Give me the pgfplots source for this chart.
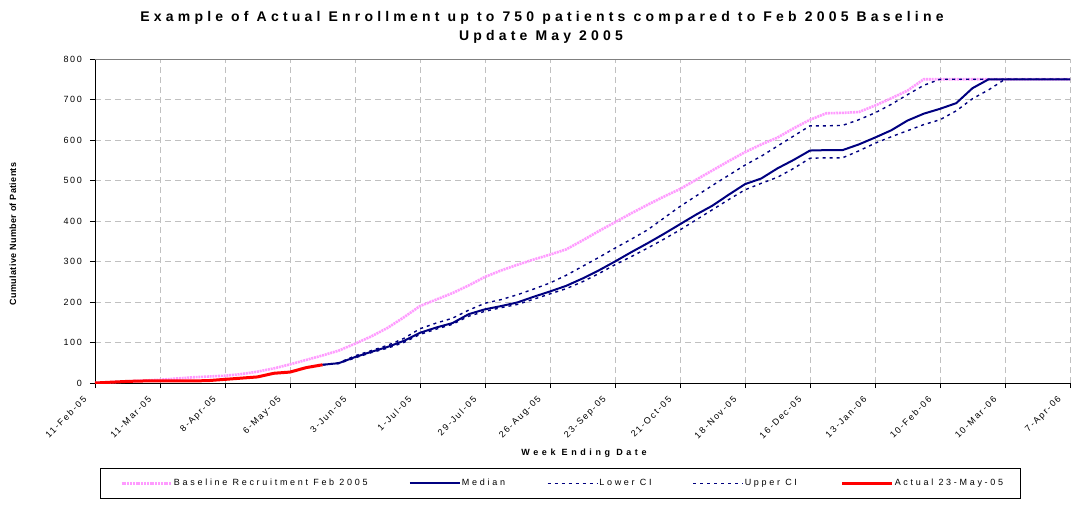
\documentclass[border=0pt]{standalone}
\usepackage{pgfplots}
\pgfplotsset{compat=1.18}
\usepackage{pgfplotstable}
\usepackage{fontspec}
\setmainfont{Liberation Sans}
\newfontfamily\titlefont[LetterSpace=30]{Liberation Sans}
\newfontfamily\legfont[LetterSpace=30]{Liberation Sans}
\newfontfamily\tickfont[LetterSpace=18]{Liberation Sans}
\newfontfamily\xlabfont[LetterSpace=40]{Liberation Sans}
\newfontfamily\ylabfont[LetterSpace=4]{Liberation Sans}
\definecolor{pinkline}{RGB}{255,155,255}
\definecolor{navy}{RGB}{0,0,128}
\definecolor{gridgray}{RGB}{192,192,192}

\pgfplotstableread{
w v
0 0
1 2
2 4
3 6
4 8
5 11
6 14
7 16
8 18
9 22
10 28
11 36
12 46
13 57
14 68
15 80
16 97
17 115
18 136
19 162
20 190
21 206
22 222
23 241
24 262
25 278
26 292
27 305
28 317
29 330
30 352
31 375
32 397
33 419
34 440
35 460
36 479
37 502
38 525
39 548
40 570
41 589
42 606
43 629
44 650
45 666
46 667
47 669
48 685
49 703
50 722
51 750
52 750
53 750
54 750
55 750
56 750
57 750
58 750
59 750
60 750
}\baseline

\pgfplotstableread{
w v
0 0
1 2
2 4
3 5
4 5
5 5
6 5
7 6
8 9
9 12
10 15
11 24
12 27
13 38
14 45
}\actual

\pgfplotstableread{
w med up lo
14 45 45 45
15 49 50 48
16 64 67 62
17 77 80 75
18 89 93 86
19 104 110 100
20 124 134 120
21 137 148 133
22 148 160 145
23 170 180 165
24 182 197 177
25 190 206 186
26 199 218 194
27 213 232 207
28 226 247 220
29 240 266 233
30 258 288 250
31 278 310 270
32 300 333 292
33 323 355 312
34 345 378 333
35 368 407 355
36 392 436 378
37 416 462 403
38 438 488 428
39 465 513 453
40 491 538 477
41 505 560 493
42 530 585 508
43 551 610 530
44 574 635 555
45 575 635 556
46 575 636 556
47 589 650 573
48 606 667 592
49 624 688 608
50 648 712 623
51 665 735 638
52 677 750 650
53 691 750 672
54 728 750 702
55 750 750 724
56 750 750 750
57 750 750 750
58 750 750 750
59 750 750 750
60 750 750 750
}\median

\begin{document}
\begin{tikzpicture}
\useasboundingbox (-95pt,-121pt) rectangle (976pt,383pt);
\begin{axis}[
  at={(0pt,0pt)}, anchor=south west,
  scale only axis, width=975pt, height=324pt,
  xmin=0, xmax=60, ymin=0, ymax=800,
  axis lines*=left,
  axis line style={black, line width=0.8pt},
  xtick={0,4,...,60},
  xticklabels={11-Feb-05,11-Mar-05,8-Apr-05,6-May-05,3-Jun-05,1-Jul-05,29-Jul-05,26-Aug-05,23-Sep-05,21-Oct-05,18-Nov-05,16-Dec-05,13-Jan-06,10-Feb-06,10-Mar-06,7-Apr-06},
  ytick={0,100,...,800},
  tick align=outside, major tick length=5pt,
  tick style={black, line width=0.8pt},
  grid=major,
  major grid style={gridgray, dash pattern=on 6pt off 4pt, line width=0.8pt},
  /pgf/number format/assume math mode=true,
  yticklabel style={font=\fontsize{9}{10}\selectfont\tickfont, anchor=east, inner sep=0pt, xshift=-8pt},
  xticklabel style={font=\fontsize{9}{10}\selectfont\tickfont, anchor=east, inner sep=0pt, xshift=-10pt, yshift=-10pt, rotate=45},
  legend columns=5,
  legend image code/.code={\draw[#1] (0pt,0pt) -- (50pt,0pt);},
  legend style={at={(rel axis cs:0.00513,-0.2623)}, anchor=north west,
    draw=black, line width=0.8pt, inner xsep=20pt, inner ysep=10pt,
    font=\fontsize{9}{10}\selectfont\legfont,
    nodes={inner sep=1pt, anchor=west},
    /tikz/every even column/.append style={column sep=0pt}},
]
\addplot[pinkline, line width=2.6pt, dash pattern=on 2pt off 0.8pt] table[x=w,y=v] {\baseline};
\addlegendentry{\makebox[234pt][l]{Baseline Recruitment Feb 2005}}
\addplot[navy, line width=2pt] table[x=w,y=med] {\median};
\addlegendentry{\makebox[84pt][l]{Median}}
\addplot[navy, line width=1.4pt, dash pattern=on 3pt off 4pt] table[x=w,y=lo] {\median};
\addlegendentry{\makebox[92pt][l]{Lower CI}}
\addplot[navy, line width=1.4pt, dash pattern=on 3pt off 4pt] table[x=w,y=up] {\median};
\addlegendentry{\makebox[95pt][l]{Upper CI}}
\addplot[red, line width=3pt] table[x=w,y=v] {\actual};
\addlegendentry{\makebox[105pt][l]{Actual 23-May-05}}
\draw[gray, line width=0.8pt] (rel axis cs:0,1) -- (rel axis cs:1,1);
\end{axis}
\node[anchor=base, font=\fontsize{14}{16}\selectfont\titlefont\bfseries] at (447pt,361pt) {Example of Actual Enrollment up to 750 patients compared to Feb 2005 Baseline};
\node[anchor=base, font=\fontsize{14}{16}\selectfont\titlefont\bfseries] at (446pt,342pt) {Update May 2005};
\node[anchor=base, font=\fontsize{9}{10}\selectfont\xlabfont\bfseries] at (489pt,-72pt) {Week Ending Date};
\node[rotate=90, font=\fontsize{9}{10}\selectfont\ylabfont\bfseries] at (-82pt,149pt) {Cumulative Number of Patients};
\end{tikzpicture}
\end{document}
